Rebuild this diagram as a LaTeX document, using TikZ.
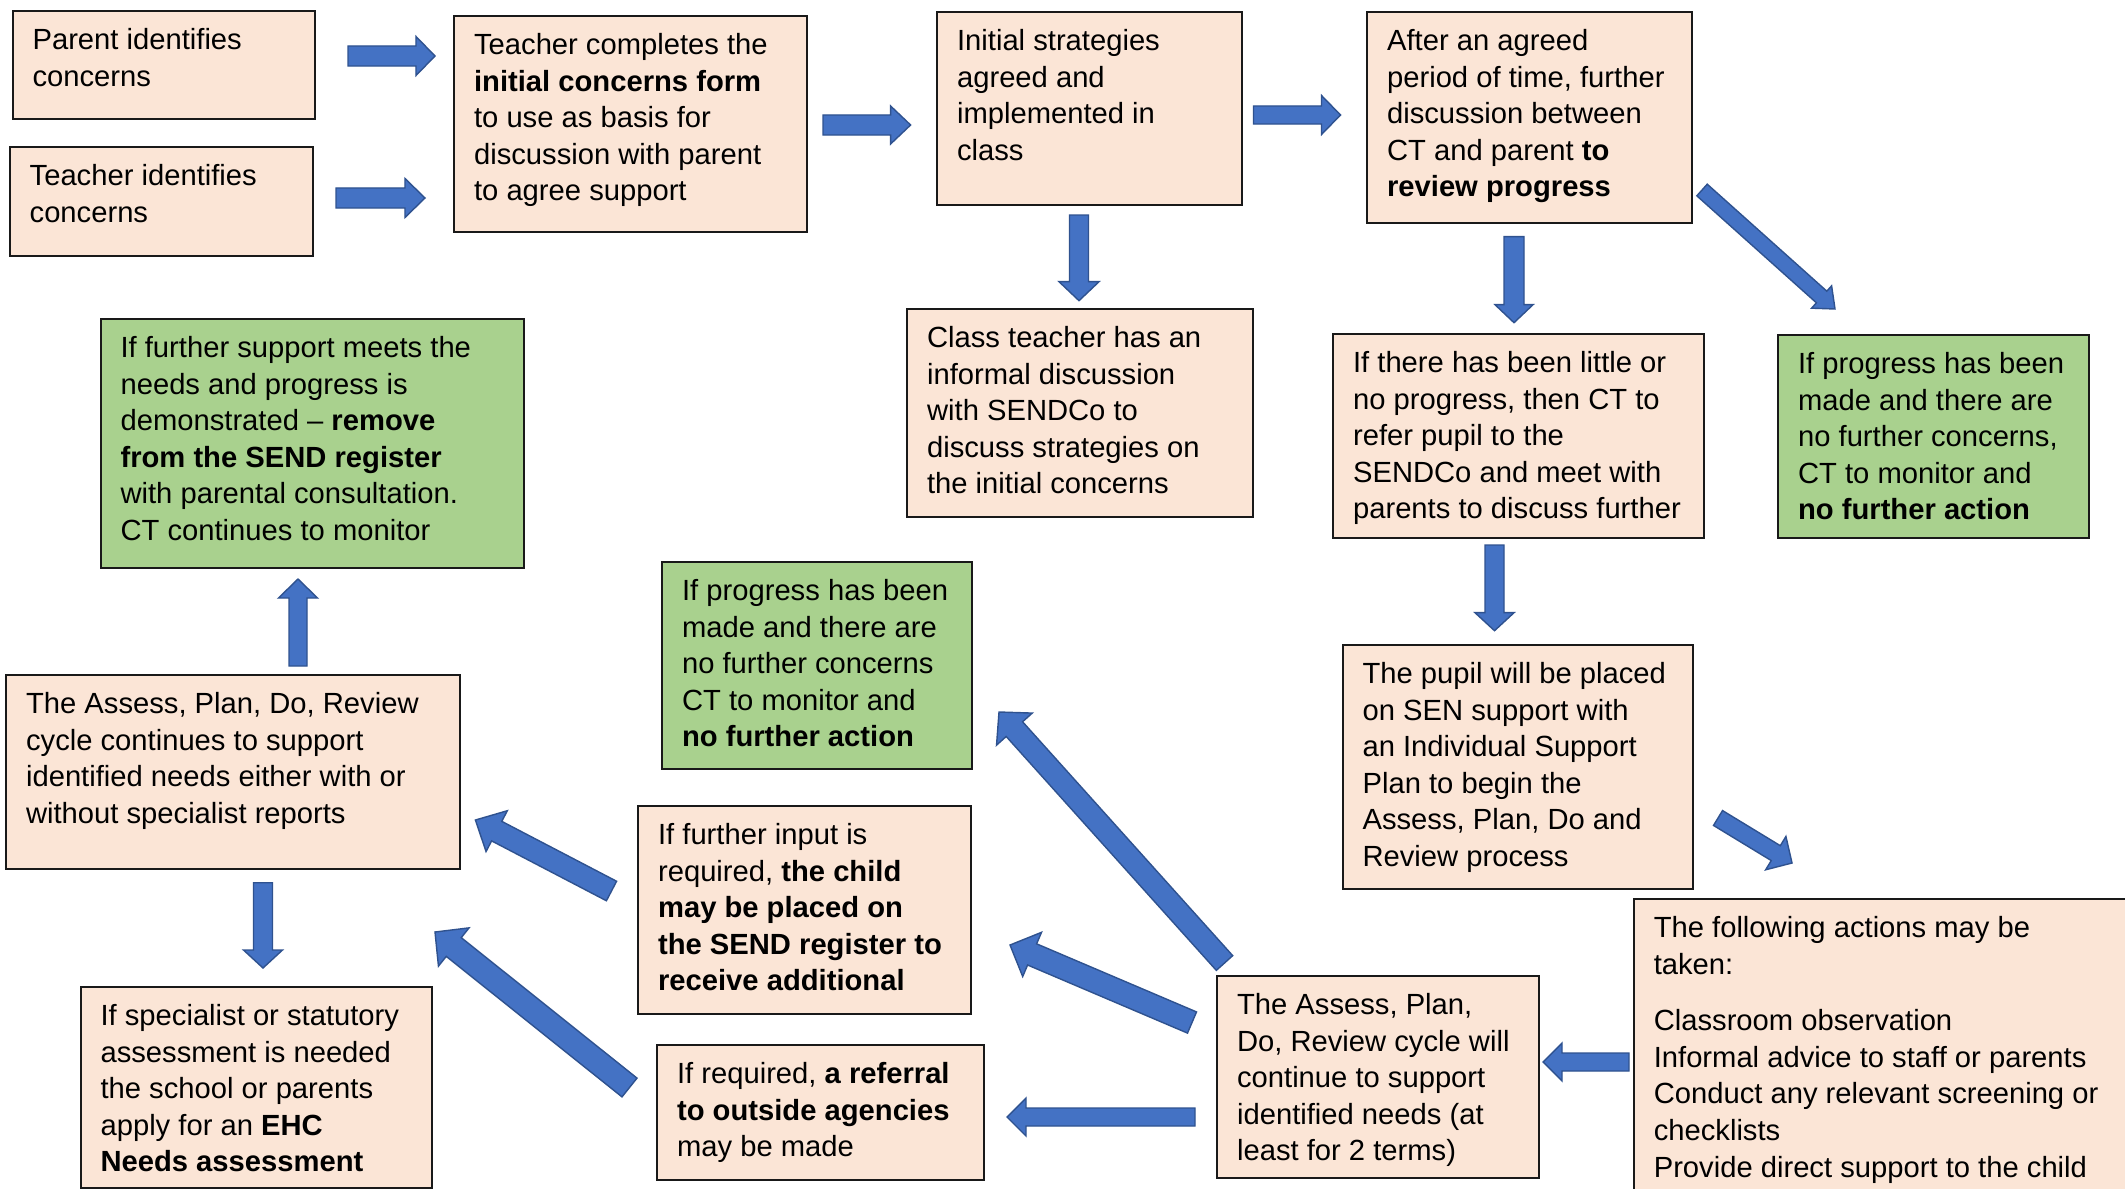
\documentclass[tikz,border=0pt]{standalone}
\usepackage{fontspec}
\setmainfont{Liberation Sans}
\usetikzlibrary{calc}
\definecolor{peach}{HTML}{FBE5D6}
\definecolor{leaf}{HTML}{A9D18E}
\definecolor{arrowblue}{HTML}{4472C4}
\definecolor{arrowedge}{HTML}{2F528F}
\tikzset{
  box/.style={draw=black!90, line width=0.6pt, fill=peach, anchor=north west,
    inner xsep=0.2cm, inner ysep=0.13cm, font=\fontsize{8.3}{10.4}\selectfont},
  okbox/.style={box, fill=leaf},
  fat/.style={fill=arrowblue, draw=arrowedge, line width=0.4pt}
}
% text block: width, height, text
\newcommand{\cell}[3]{\parbox[t][#2][t]{#1}{\raggedright\strut #3}}
% block arrow: tail, tip, half shaft, half head, head length
\newcommand{\fatarrow}[5]{%
  \coordinate (hb) at ($(#2)!#5!(#1)$);
  \filldraw[fat] ($(#1)!#3!90:(#2)$) -- ($(hb)!#3!-90:(#1)$) -- ($(hb)!#4!-90:(#1)$) -- (#2)
    -- ($(hb)!#4!90:(#1)$) -- ($(hb)!#3!90:(#1)$) -- ($(#1)!#3!-90:(#2)$) -- cycle;}

\begin{document}
\begin{tikzpicture}[x=0.01cm,y=-0.01cm]
\useasboundingbox (0,0) rectangle (2125,1188);
\clip (0,0) rectangle (2125,1188);

% top row
\node[box] (parent) at (11.5,10) {\cell{2.625cm}{0.82cm}{Parent identifies\\concerns}};
\node[box] (teacherid) at (8.6,146) {\cell{2.634cm}{0.83cm}{Teacher identifies\\concerns}};
\node[box] (concernsform) at (453,15) {\cell{3.13cm}{1.90cm}{Teacher completes the\\\textbf{initial concerns form}\\to use as basis for\\discussion with parent\\to agree support}};
\node[box] (strategies) at (936,11) {\cell{2.65cm}{1.67cm}{Initial strategies\\agreed and\\implemented in\\class}};
\node[box] (review) at (1366,11) {\cell{2.85cm}{1.85cm}{After an agreed\\period of time, further\\discussion between\\CT and parent \textbf{to}\\\textbf{review progress}}};

% second row
\node[box] (informal) at (906,308) {\cell{3.06cm}{1.82cm}{Class teacher has an\\informal discussion\\with SENDCo to\\discuss strategies on\\the initial concerns}};
\node[box] (noprogress) at (1332,333) {\cell{3.31cm}{1.78cm}{If there has been little or\\no progress, then CT to\\refer pupil to the\\SENDCo and meet with\\parents to discuss further}};
\node[okbox] (donetop) at (1777,334) {\cell{2.71cm}{1.77cm}{If progress has been\\made and there are\\no further concerns,\\CT to monitor and\\\textbf{no further action}}};
\node[okbox] (removesend) at (99.5,318) {\cell{3.83cm}{2.23cm}{If further support meets the\\needs and progress is\\demonstrated – \textbf{remove}\\\textbf{from the SEND register}\\with parental consultation.\\CT continues to monitor}};

% middle
\node[okbox] (donemid) at (661,561) {\cell{2.70cm}{1.81cm}{If progress has been\\made and there are\\no further concerns\\CT to monitor and\\\textbf{no further action}}};
\node[box] (sensupport) at (1341.5,644) {\cell{3.10cm}{2.18cm}{The pupil will be placed\\on SEN support with\\an Individual Support\\Plan to begin the\\Assess, Plan, Do and\\Review process}};
\node[box] (cycleleft) at (5,674) {\cell{4.14cm}{1.68cm}{The Assess, Plan, Do, Review\\cycle continues to support\\identified needs either with or\\without specialist reports}};

% bottom
\node[box] (actions) at (1632.7,898) {\cell{4.67cm}{2.76cm}{The following actions may be\\taken:\\[0.2cm]Classroom observation\\Informal advice to staff or parents\\Conduct any relevant screening or\\checklists\\Provide direct support to the child}};
\node[box] (senreg) at (637,805) {\cell{2.93cm}{1.82cm}{If further input is\\required, \textbf{the child}\\\textbf{may be placed on}\\\textbf{the SEND register to}\\\textbf{receive additional}}};
\node[box] (cycleright) at (1216,975) {\cell{2.82cm}{1.76cm}{The Assess, Plan,\\Do, Review cycle will\\continue to support\\identified needs (at\\least for 2 terms)}};
\node[box] (referral) at (656,1044) {\cell{2.87cm}{1.09cm}{If required, \textbf{a referral}\\\textbf{to outside agencies}\\may be made}};
\node[box] (ehc) at (79.5,986) {\cell{3.115cm}{1.75cm}{If specialist or statutory\\assessment is needed\\the school or parents\\apply for an \textbf{EHC}\\\textbf{Needs assessment}}};

% arrow ends
\coordinate (a1s) at (348,56);     \coordinate (a1e) at (435,56);
\coordinate (a2s) at (336,198);    \coordinate (a2e) at (425,198);
\coordinate (a3s) at (823,125);    \coordinate (a3e) at (910.6,125);
\coordinate (a4s) at (1253.5,115); \coordinate (a4e) at (1340.5,115);
\coordinate (a5s) at (1079,215);   \coordinate (a5e) at (1079,300.7);
\coordinate (a6s) at (1514,236.7); \coordinate (a6e) at (1514,322.7);
\coordinate (a7s) at (1494.5,545); \coordinate (a7e) at (1494.5,630.7);
\coordinate (a8s) at (298,666);    \coordinate (a8e) at (298,579);
\coordinate (a9s) at (263,882.7);  \coordinate (a9e) at (263,968);
\coordinate (a10s) at (1629,1062); \coordinate (a10e) at (1543,1062);
\coordinate (a11s) at (1195,1117); \coordinate (a11e) at (1007,1117);
\coordinate (d1s) at (1702,190);   \coordinate (d1e) at (1835,309);
\coordinate (d2s) at (1718,818);   \coordinate (d2e) at (1792,863);
\coordinate (d3s) at (1224.5,963); \coordinate (d3e) at (999,712);
\coordinate (d4s) at (1192,1022.5);\coordinate (d4e) at (1010,945);
\coordinate (d5s) at (611.5,891);  \coordinate (d5e) at (475.4,820);
\coordinate (d6s) at (629.5,1087.5);\coordinate (d6e) at (435,932);

% straight arrows
\fatarrow{a1s}{a1e}{0.1cm}{0.195cm}{0.19cm}
\fatarrow{a2s}{a2e}{0.1cm}{0.195cm}{0.2cm}
\fatarrow{a3s}{a3e}{0.1cm}{0.19cm}{0.2cm}
\fatarrow{a4s}{a4e}{0.09cm}{0.195cm}{0.19cm}
\fatarrow{a5s}{a5e}{0.095cm}{0.2cm}{0.19cm}
\fatarrow{a6s}{a6e}{0.1cm}{0.19cm}{0.18cm}
\fatarrow{a7s}{a7e}{0.095cm}{0.195cm}{0.18cm}
\fatarrow{a8s}{a8e}{0.09cm}{0.195cm}{0.19cm}
\fatarrow{a9s}{a9e}{0.095cm}{0.195cm}{0.18cm}
\fatarrow{a10s}{a10e}{0.09cm}{0.19cm}{0.19cm}
\fatarrow{a11s}{a11e}{0.09cm}{0.19cm}{0.19cm}
% slanted arrows
\fatarrow{d1s}{d1e}{0.078cm}{0.15cm}{0.18cm}
\fatarrow{d2s}{d2e}{0.087cm}{0.195cm}{0.19cm}
\fatarrow{d3s}{d3e}{0.11cm}{0.24cm}{0.23cm}
\fatarrow{d4s}{d4e}{0.115cm}{0.24cm}{0.24cm}
\fatarrow{d5s}{d5e}{0.11cm}{0.23cm}{0.24cm}
\fatarrow{d6s}{d6e}{0.12cm}{0.245cm}{0.24cm}
\end{tikzpicture}
\end{document}
